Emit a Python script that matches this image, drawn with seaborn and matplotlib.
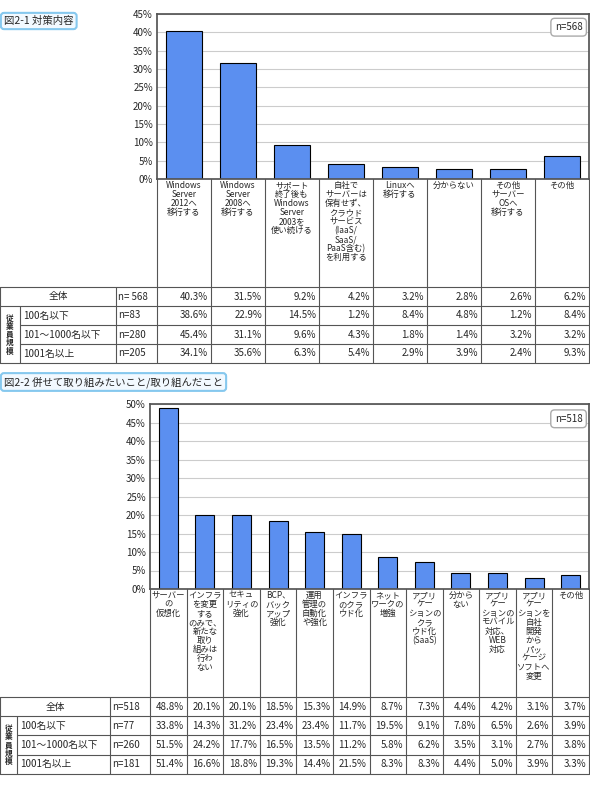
import numpy as np
import matplotlib.pyplot as plt
import seaborn as sns
from matplotlib.lines import Line2D

W, H = 590, 785

# ---- data: figure 2-1
labels1 = ["Windows\nServer\n2012へ\n移行する", "Windows\nServer\n2008へ\n移行する",
           "サポート\n終了後も\nWindows\nServer\n2003を\n使い続ける",
           "自社で\nサーバーは\n保有せず、\nクラウド\nサービス\n(IaaS/\nSaaS/\nPaaS含む)\nを利用する",
           "Linuxへ\n移行する", "分からない", "その他\nサーバー\nOSへ\n移行する", "その他"]
total1 = [40.3, 31.5, 9.2, 4.2, 3.2, 2.8, 2.6, 6.2]
small1 = [38.6, 22.9, 14.5, 1.2, 8.4, 4.8, 1.2, 8.4]
mid1 = [45.4, 31.1, 9.6, 4.3, 1.8, 1.4, 3.2, 3.2]
large1 = [34.1, 35.6, 6.3, 5.4, 2.9, 3.9, 2.4, 9.3]
n1 = ["n= 568", "n=83", "n=280", "n=205"]

# ---- data: figure 2-2
labels2 = ["サーバー\nの\n仮想化", "インフラ\nを変更\nする\nのみで、\n新たな\n取り\n組みは\n行わ\nない",
           "セキュ\nリティの\n強化", "BCP、\nバック\nアップ\n強化", "運用\n管理の\n自動化\nや強化",
           "インフラ\nのクラ\nウド化", "ネット\nワークの\n増強", "アプリ\nケー\nションの\nクラ\nウド化\n(SaaS)",
           "分から\nない", "アプリ\nケー\nションの\nモバイル\n対応、\nWEB\n対応",
           "アプリ\nケー\nションを\n自社\n開発\nから\nパッ\nケージ\nソフトへ\n変更", "その他"]
total2 = [48.8, 20.1, 20.1, 18.5, 15.3, 14.9, 8.7, 7.3, 4.4, 4.2, 3.1, 3.7]
small2 = [33.8, 14.3, 31.2, 23.4, 23.4, 11.7, 19.5, 9.1, 7.8, 6.5, 2.6, 3.9]
mid2 = [51.5, 24.2, 17.7, 16.5, 13.5, 11.2, 5.8, 6.2, 3.5, 3.1, 2.7, 3.8]
large2 = [51.4, 16.6, 18.8, 19.3, 14.4, 21.5, 8.3, 8.3, 4.4, 5.0, 3.9, 3.3]
n2 = ["n=518", "n=77", "n=260", "n=181"]

row_names = ["全体", "100名以下", "101～1000名以下", "1001名以上"]

sns.set_theme(style="white")
plt.rcParams['font.family'] = ['Noto Sans CJK JP', 'DejaVu Sans']

fig = plt.figure(figsize=(W / 100, H / 100), dpi=100)


def fx(x):
    return x / W


def fy(y):
    return 1 - y / H


def line(x0, y0, x1, y1, c="#555555", lw=0.8):
    fig.add_artist(Line2D([fx(x0), fx(x1)], [fy(y0), fy(y1)], color=c, lw=lw))


def draw_chart(title, title_y, labels, rows, ns, ymax, left, top, bottom, lab_bot,
               row_h, c1, c2, bw, fs, nbox):
    right = 589
    ax = fig.add_axes([fx(left), fy(bottom), fx(right) - fx(left), (bottom - top) / H])
    xs = list(range(len(labels)))
    sns.barplot(x=xs, y=rows[0], ax=ax, color="#5b8ff0", edgecolor="black",
                linewidth=0.8, width=bw, saturation=1)
    ax.set_ylim(0, ymax)
    ax.set_xlim(-0.5, len(labels) - 0.5)
    ticks = np.arange(0, ymax + 1, 5)
    ax.set_yticks(ticks)
    ax.set_yticklabels([f"{t}%" for t in ticks], fontsize=7)
    ax.tick_params(axis="y", length=0, pad=3)
    ax.set_xticks([])
    ax.set_xlabel("")
    ax.set_ylabel("")
    ax.yaxis.grid(True, color="#cccccc", lw=0.8)
    ax.set_axisbelow(True)
    for s in ax.spines.values():
        s.set_color("#555555")
    ax.text(0.985, 0.92, nbox, transform=ax.transAxes, ha="right", va="center", fontsize=7,
            bbox=dict(boxstyle="round,pad=0.4", fc="white", ec="#aaaaaa", lw=1))

    ncat = len(labels)
    cw = (right - left) / ncat
    tab_bot = lab_bot + 4 * row_h
    for i in range(ncat + 1):
        x = left + i * cw
        line(x, bottom, x, tab_bot)
    for i, lab in enumerate(labels):
        fig.text(fx(left + (i + 0.5) * cw), fy(bottom + 2), lab, ha="center", va="top",
                 fontsize=fs, linespacing=1.0)
    # table
    line(0, lab_bot, right, lab_bot)
    line(0, tab_bot, right, tab_bot)
    line(0, lab_bot, 0, tab_bot)
    line(c1, lab_bot + row_h, c1, tab_bot)
    line(c2, lab_bot, c2, tab_bot)
    for r in range(1, 4):
        x0 = 0 if r == 1 else c1
        line(x0, lab_bot + r * row_h, right, lab_bot + r * row_h)
    fig.text(fx(c1 / 2), fy(lab_bot + 2.5 * row_h), "従\n業\n員\n規\n模", ha="center",
             va="center", fontsize=5.5, linespacing=0.9, fontweight="bold")
    for r in range(4):
        yc = fy(lab_bot + (r + 0.5) * row_h)
        if r == 0:
            fig.text(fx(c2 / 2), yc, row_names[0], ha="center", va="center", fontsize=7)
        else:
            fig.text(fx(c1 + 3), yc, row_names[r], ha="left", va="center", fontsize=7)
        fig.text(fx(c2 + 2), yc, ns[r], ha="left", va="center", fontsize=7)
        for i, v in enumerate(rows[r]):
            fig.text(fx(left + (i + 1) * cw - 3), yc, f"{v:.1f}%", ha="right",
                     va="center", fontsize=7)
    fig.text(fx(4), fy(title_y), title, ha="left", va="center", fontsize=7.5,
             bbox=dict(boxstyle="round,pad=0.3", fc="#f2f9ff", ec="#86c8ee", lw=1.5))


draw_chart("図2-1 対策内容", 21, labels1, [total1, small1, mid1, large1], n1, 45,
           157, 14, 179, 287, 19, 20, 116, 0.65, 6.0, "n=568")
draw_chart("図2-2 併せて取り組みたいこと/取り組んだこと", 382, labels2,
           [total2, small2, mid2, large2], n2, 50,
           150, 404, 589, 697, 19.2, 17, 110, 0.52, 6.0, "n=518")

fig.savefig("out.png", dpi=100)
